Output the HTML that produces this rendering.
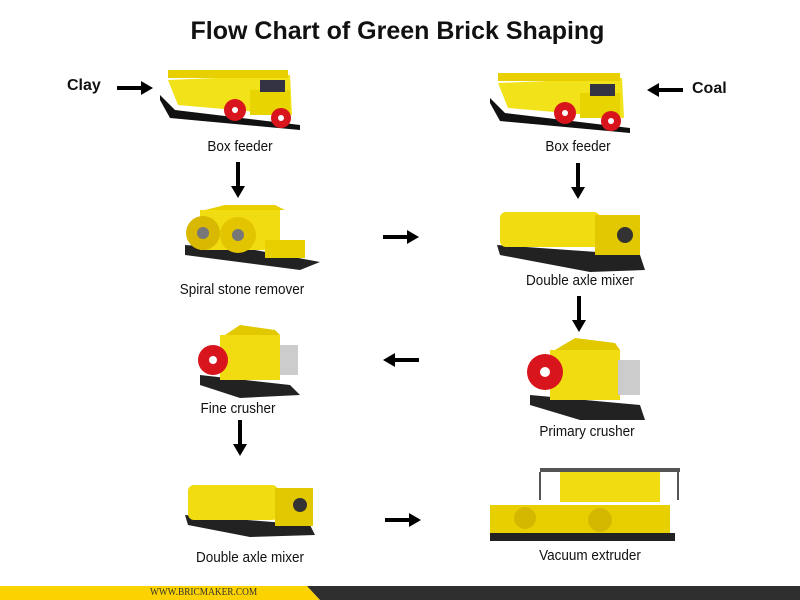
<!DOCTYPE html>
<html><head><style>
body{margin:0;width:800px;height:600px;background:#fff;position:relative;overflow:hidden;font-family:"Liberation Sans",sans-serif}
.t{position:absolute;font-size:15px;color:#111;white-space:nowrap;transform:translateX(-50%) scaleX(0.9)}
h1{position:absolute;top:17px;left:0;width:795px;text-align:center;margin:0;font-size:25px;font-weight:bold;color:#111}
.b{position:absolute;font-weight:bold;font-size:16px;color:#111}
</style></head><body>
<h1>Flow Chart of Green Brick Shaping</h1>
<div class="b" style="left:67px;top:77px">Clay</div>
<div class="b" style="left:692px;top:80px">Coal</div>
<div class="t" style="left:240px;top:138px">Box feeder</div>
<div class="t" style="left:578px;top:138px">Box feeder</div>
<div class="t" style="left:242px;top:281px">Spiral stone remover</div>
<div class="t" style="left:580px;top:272px">Double axle mixer</div>
<div class="t" style="left:238px;top:400px">Fine crusher</div>
<div class="t" style="left:587px;top:423px">Primary crusher</div>
<div class="t" style="left:250px;top:549px">Double axle mixer</div>
<div class="t" style="left:590px;top:547px">Vacuum extruder</div>
<svg width="800" height="600" style="position:absolute;left:0;top:0" xmlns="http://www.w3.org/2000/svg">
<defs>
<g id="ar"><rect x="0" y="-2" width="26" height="4" fill="#000"/><polygon points="24,-7 36,0 24,7" fill="#000"/></g>
</defs>
<polygon points="0,586 307,586 320,600 0,600" fill="#fcd200"/>
<polygon points="307,586 800,586 800,600 320,600" fill="#2f2f2f"/>
<use href="#ar" transform="translate(117,88)"/>
<use href="#ar" transform="translate(683,90) rotate(180)"/>
<use href="#ar" transform="translate(238,162) rotate(90)"/>
<use href="#ar" transform="translate(578,163) rotate(90)"/>
<use href="#ar" transform="translate(579,296) rotate(90)"/>
<use href="#ar" transform="translate(240,420) rotate(90)"/>
<use href="#ar" transform="translate(383,237)"/>
<use href="#ar" transform="translate(419,360) rotate(180)"/>
<use href="#ar" transform="translate(385,520)"/>
<g>
<polygon points="160,95 175,110 300,125 300,130 170,118 160,100" fill="#111"/>
<polygon points="168,80 290,75 292,115 178,105" fill="#f2e21a"/>
<rect x="168" y="70" width="120" height="8" fill="#e8d000"/>
<rect x="250" y="90" width="40" height="25" fill="#e8d400"/>
<rect x="260" y="80" width="25" height="12" fill="#334"/>
<circle cx="235" cy="110" r="11" fill="#d8141c"/><circle cx="235" cy="110" r="3" fill="#fff"/>
<circle cx="281" cy="118" r="10" fill="#d8141c"/><circle cx="281" cy="118" r="3" fill="#fff"/>
</g>
<g>
<polygon points="490,98 505,113 630,128 630,133 500,121 490,103" fill="#111"/>
<polygon points="498,83 622,78 624,118 508,108" fill="#f2e21a"/>
<rect x="498" y="73" width="122" height="8" fill="#e8d000"/>
<rect x="580" y="93" width="40" height="25" fill="#e8d400"/>
<rect x="590" y="84" width="25" height="12" fill="#334"/>
<circle cx="565" cy="113" r="11" fill="#d8141c"/><circle cx="565" cy="113" r="3" fill="#fff"/>
<circle cx="611" cy="121" r="10" fill="#d8141c"/><circle cx="611" cy="121" r="3" fill="#fff"/>
</g>
<g>
<polygon points="185,245 255,250 320,262 300,270 185,255" fill="#222"/>
<rect x="200" y="210" width="80" height="40" fill="#f0dc10"/>
<polygon points="205,210 225,205 275,205 285,210" fill="#e8cf00"/>
<circle cx="203" cy="233" r="17" fill="#d8b800"/><circle cx="203" cy="233" r="6" fill="#777"/>
<circle cx="238" cy="235" r="18" fill="#e3c400"/><circle cx="238" cy="235" r="6" fill="#777"/>
<rect x="265" y="240" width="40" height="18" fill="#e8d000"/>
</g>
<g>
<polygon points="497,245 640,255 645,270 590,272 500,255" fill="#222"/>
<rect x="500" y="212" width="100" height="35" rx="6" fill="#f0dc10"/>
<rect x="595" y="215" width="45" height="40" fill="#e2c800"/>
<circle cx="625" cy="235" r="8" fill="#333"/>
</g>
<g>
<polygon points="200,375 290,385 300,395 240,398 200,385" fill="#222"/>
<rect x="220" y="335" width="60" height="45" fill="#f0dc10"/>
<polygon points="225,335 240,325 275,330 280,335" fill="#e2c800"/>
<circle cx="213" cy="360" r="15" fill="#d8141c"/><circle cx="213" cy="360" r="4" fill="#fff"/>
<rect x="280" y="345" width="18" height="30" fill="#ccc"/>
</g>
<g>
<polygon points="530,395 640,405 645,420 580,420 530,405" fill="#222"/>
<rect x="550" y="350" width="70" height="50" fill="#f0dc10"/>
<polygon points="555,350 575,338 615,343 620,350" fill="#e2c800"/>
<circle cx="545" cy="372" r="18" fill="#d8141c"/><circle cx="545" cy="372" r="5" fill="#fff"/>
<rect x="618" y="360" width="22" height="35" fill="#ccc"/>
</g>
<g>
<polygon points="185,515 310,525 315,535 250,537 188,525" fill="#222"/>
<rect x="188" y="485" width="90" height="35" rx="6" fill="#f0dc10"/>
<rect x="275" y="488" width="38" height="38" fill="#e2c800"/>
<circle cx="300" cy="505" r="7" fill="#333"/>
</g>
<g>
<rect x="540" y="468" width="140" height="4" fill="#555"/>
<line x1="540" y1="472" x2="540" y2="500" stroke="#555" stroke-width="2"/>
<line x1="678" y1="472" x2="678" y2="500" stroke="#555" stroke-width="2"/>
<rect x="560" y="472" width="100" height="30" fill="#f0dc10"/>
<rect x="490" y="505" width="180" height="28" fill="#e8d000"/>
<circle cx="525" cy="518" r="11" fill="#d4b800"/>
<circle cx="600" cy="520" r="12" fill="#d4b800"/>
<rect x="490" y="533" width="185" height="8" fill="#222"/>
</g>
</svg>
<div style="position:absolute;z-index:2;left:150px;top:586px;font-family:'Liberation Serif',serif;font-size:11px;color:#333;transform:scaleX(0.85);transform-origin:left">WWW.BRICMAKER.COM</div>
</body></html>
